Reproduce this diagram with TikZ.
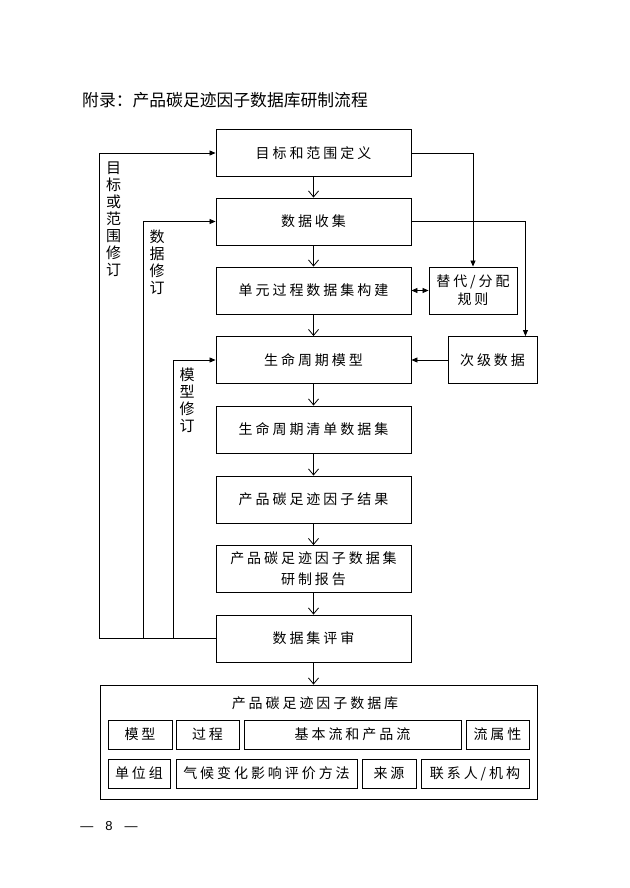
\documentclass[tikz,border=0pt]{standalone}
\usepackage{fontspec}
\setmainfont{Liberation Sans}
\newfontfamily\cjk{Noto Sans CJK SC}
\newfontfamily\cjksp[LetterSpace=21]{Noto Sans CJK SC}
\usetikzlibrary{arrows.meta}
\begin{document}
\begin{tikzpicture}[x=1pt,y=-1pt,
 box/.style={draw, line width=0.9pt, inner sep=0pt, minimum height=47pt, font=\cjksp\fontsize{14}{18}\selectfont, align=center},
 mainbox/.style={box, minimum width=195pt},
 cell/.style={draw, line width=0.9pt, inner sep=0pt, minimum height=29pt, font=\cjksp\fontsize{14}{16}\selectfont},
 flow/.style={line width=0.8pt, -{Straight Barb[length=6pt,width=10pt]}},
 fb/.style={line width=0.8pt, -{Triangle[length=6pt,width=5pt]}},
 dfb/.style={line width=0.8pt, {Triangle[length=6pt,width=5pt]}-{Triangle[length=6pt,width=5pt]}},
 plain/.style={line width=0.8pt},
 vlab/.style={font=\cjk\fontsize{15}{17}\selectfont, align=center, inner sep=0pt}
]
\useasboundingbox (0,0) rectangle (629,888);
\fill[white] (0,0) rectangle (629,888);

% title
\node[anchor=west, inner sep=0pt, font=\cjk\fontsize{16.8}{18}\selectfont] (title) at (82,100) {附录：产品碳足迹因子数据库研制流程};

% main column
\node[mainbox] (b1) at (313.5,153) {目标和范围定义};
\node[mainbox] (b2) at (313.5,221.5) {数据收集};
\node[mainbox] (b3) at (313.5,290.5) {单元过程数据集构建};
\node[mainbox] (b4) at (313.5,360) {生命周期模型};
\node[mainbox] (b5) at (313.5,429.5) {生命周期清单数据集};
\node[mainbox] (b6) at (313.5,499.5) {产品碳足迹因子结果};
\node[mainbox, font=\cjksp\fontsize{14}{21}\selectfont] (b7) at (313.5,569) {产品碳足迹因子数据集\\研制报告};
\node[mainbox] (b8) at (313.5,638.5) {数据集评审};

% right boxes
\node[box, minimum width=88pt] (r1) at (473,290.5) {替代/分配\\规则};
\node[box, minimum width=89pt] (r2) at (492.5,360) {次级数据};

% database
\node[draw, line width=0.9pt, minimum width=437pt, minimum height=114pt, inner sep=0pt] (db) at (318.5,742) {};
\node[inner sep=0pt, font=\cjksp\fontsize{14}{16}\selectfont] (dbt) at (315,703) {产品碳足迹因子数据库};
\node[cell, minimum width=64pt] (m1) at (140,734.5) {模型};
\node[cell, minimum width=63pt] (m2) at (207.5,734.5) {过程};
\node[cell, minimum width=217pt] (m3) at (352.5,734.5) {基本流和产品流};
\node[cell, minimum width=63pt] (m4) at (497.5,734.5) {流属性};
\node[cell, minimum width=62pt] (n1) at (139,773.5) {单位组};
\node[cell, minimum width=181pt] (n2) at (266.5,773.5) {气候变化影响评价方法};
\node[cell, minimum width=54pt] (n3) at (389,773.5) {来源};
\node[cell, minimum width=108pt] (n4) at (475,773.5) {联系人/机构};

% main flow arrows
\draw[flow] (b1) -- (b2);
\draw[flow] (b2) -- (b3);
\draw[flow] (b3) -- (b4);
\draw[flow] (b4) -- (b5);
\draw[flow] (b5) -- (b6);
\draw[flow] (b6) -- (b7);
\draw[flow] (b7) -- (b8);
\draw[flow] (b8.south) -- (b8.south |- db.north);

% right side
\draw[fb] (b1.east) -| (r1.north);
\draw[fb] (b2.east) -| ([xshift=-12pt]r2.north east);
\draw[dfb] (b3.east) -- (r1.west);
\draw[fb] (r2.west) -- (b4.east);

% feedback loops
\coordinate (f1) at (99,638.5);
\coordinate (f2) at (143,638.5);
\coordinate (f3) at (173,638.5);
\draw[plain] (b8.west) -- (f1);
\draw[fb] (f1) |- (b1.west);
\draw[fb] (f2) |- (b2.west);
\draw[fb] (f3) |- (b4.west);

\node[vlab] (v1) at (113.5,219.5) {目\\标\\或\\范\\围\\修\\订};
\node[vlab] (v2) at (157,262) {数\\据\\修\\订};
\node[vlab] (v3) at (187,400) {模\\型\\修\\订};

% page number
\node[inner sep=0pt, font=\fontsize{13}{15}\selectfont] (pg) at (109,826) {\makebox[15pt]{—}\hspace{11pt}8\hspace{11pt}\makebox[15pt]{—}};
\end{tikzpicture}
\end{document}
